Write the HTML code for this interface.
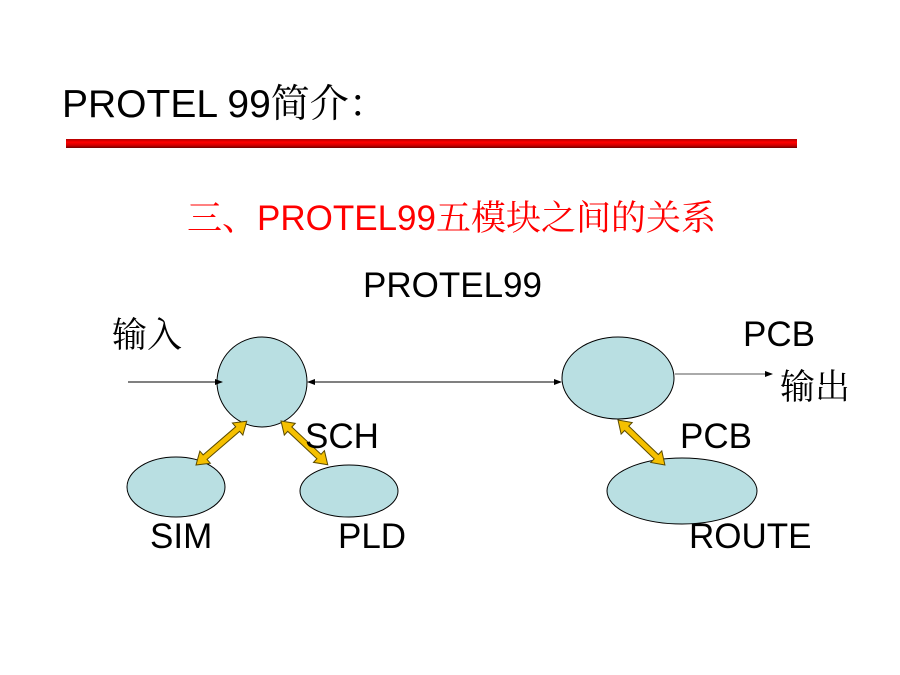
<!DOCTYPE html>
<html><head><meta charset="utf-8"><style>
html,body{margin:0;padding:0;background:#fff;width:900px;height:675px;overflow:hidden}
svg{display:block}
text{font-family:"Liberation Sans","Noto Serif CJK SC",serif}
</style></head><body>
<svg width="900" height="675" viewBox="0 0 900 675" xmlns="http://www.w3.org/2000/svg">
<defs>
<linearGradient id="bar" x1="0" y1="0" x2="0" y2="1">
<stop offset="0" stop-color="#b00000"/><stop offset="0.35" stop-color="#ff0000"/><stop offset="0.7" stop-color="#d00000"/><stop offset="1" stop-color="#700000"/>
</linearGradient>
<marker id="ah" markerWidth="8" markerHeight="8" refX="7" refY="4" orient="auto" markerUnits="userSpaceOnUse">
<path d="M0,1 L8,4 L0,7 Z" fill="#000"/></marker>
<marker id="ahs" markerWidth="8" markerHeight="8" refX="1" refY="4" orient="auto" markerUnits="userSpaceOnUse">
<path d="M8,1 L0,4 L8,7 Z" fill="#000"/></marker>
</defs>
<text x="62" y="117" font-size="39" fill="#000">PROTEL 99简介：</text>
<rect x="66" y="139" width="731" height="9" fill="url(#bar)"/>
<text x="187" y="230" font-size="35" fill="#ff0000">三、PROTEL99五模块之间的关系</text>
<text x="363" y="297" font-size="35" fill="#000">PROTEL99</text>
<text x="112" y="347" font-size="35" fill="#000">输入</text>
<text x="743" y="346" font-size="35" fill="#000">PCB</text>
<text x="780" y="399" font-size="35" fill="#000">输出</text>

<circle cx="262" cy="382" r="45" fill="#b9dfe2" stroke="#000" stroke-width="1"/>
<ellipse cx="176" cy="487" rx="49" ry="30" fill="#b9dfe2" stroke="#000" stroke-width="1"/>
<ellipse cx="349" cy="491" rx="49" ry="26" fill="#b9dfe2" stroke="#000" stroke-width="1"/>
<ellipse cx="618" cy="378" rx="56" ry="41" fill="#b9dfe2" stroke="#000" stroke-width="1"/>
<ellipse cx="682" cy="491" rx="75" ry="33" fill="#b9dfe2" stroke="#000" stroke-width="1"/>

<line x1="128" y1="382" x2="222" y2="382" stroke="#000" stroke-width="1" marker-end="url(#ah)"/>
<line x1="308" y1="382" x2="561" y2="382" stroke="#000" stroke-width="1" marker-end="url(#ah)" marker-start="url(#ahs)"/>
<line x1="675" y1="374" x2="772" y2="374" stroke="#555" stroke-width="1" marker-end="url(#ah)"/>

<g fill="#f5c000" stroke="#5a4a00" stroke-width="1">
<g transform="translate(196,465) rotate(-40.8)"><polygon points="0,0 12,-8 12,-3 55,-3 55,-8 67,0 55,8 55,3 12,3 12,8"/></g>
<g transform="translate(281,421) rotate(43.1)"><polygon points="0,0 12,-8 12,-3 52,-3 52,-8 64,0 52,8 52,3 12,3 12,8"/></g>
<g transform="translate(618,420) rotate(43.8)"><polygon points="0,0 12,-8 12,-3 53,-3 53,-8 65,0 53,8 53,3 12,3 12,8"/></g>
</g>

<text x="305" y="448" font-size="35" fill="#000">SCH</text>
<text x="680" y="448" font-size="35" fill="#000">PCB</text>
<text x="150" y="548" font-size="35" fill="#000">SIM</text>
<text x="338" y="548" font-size="35" fill="#000">PLD</text>
<text x="689" y="548" font-size="35" fill="#000">ROUTE</text>
</svg>
</body></html>
